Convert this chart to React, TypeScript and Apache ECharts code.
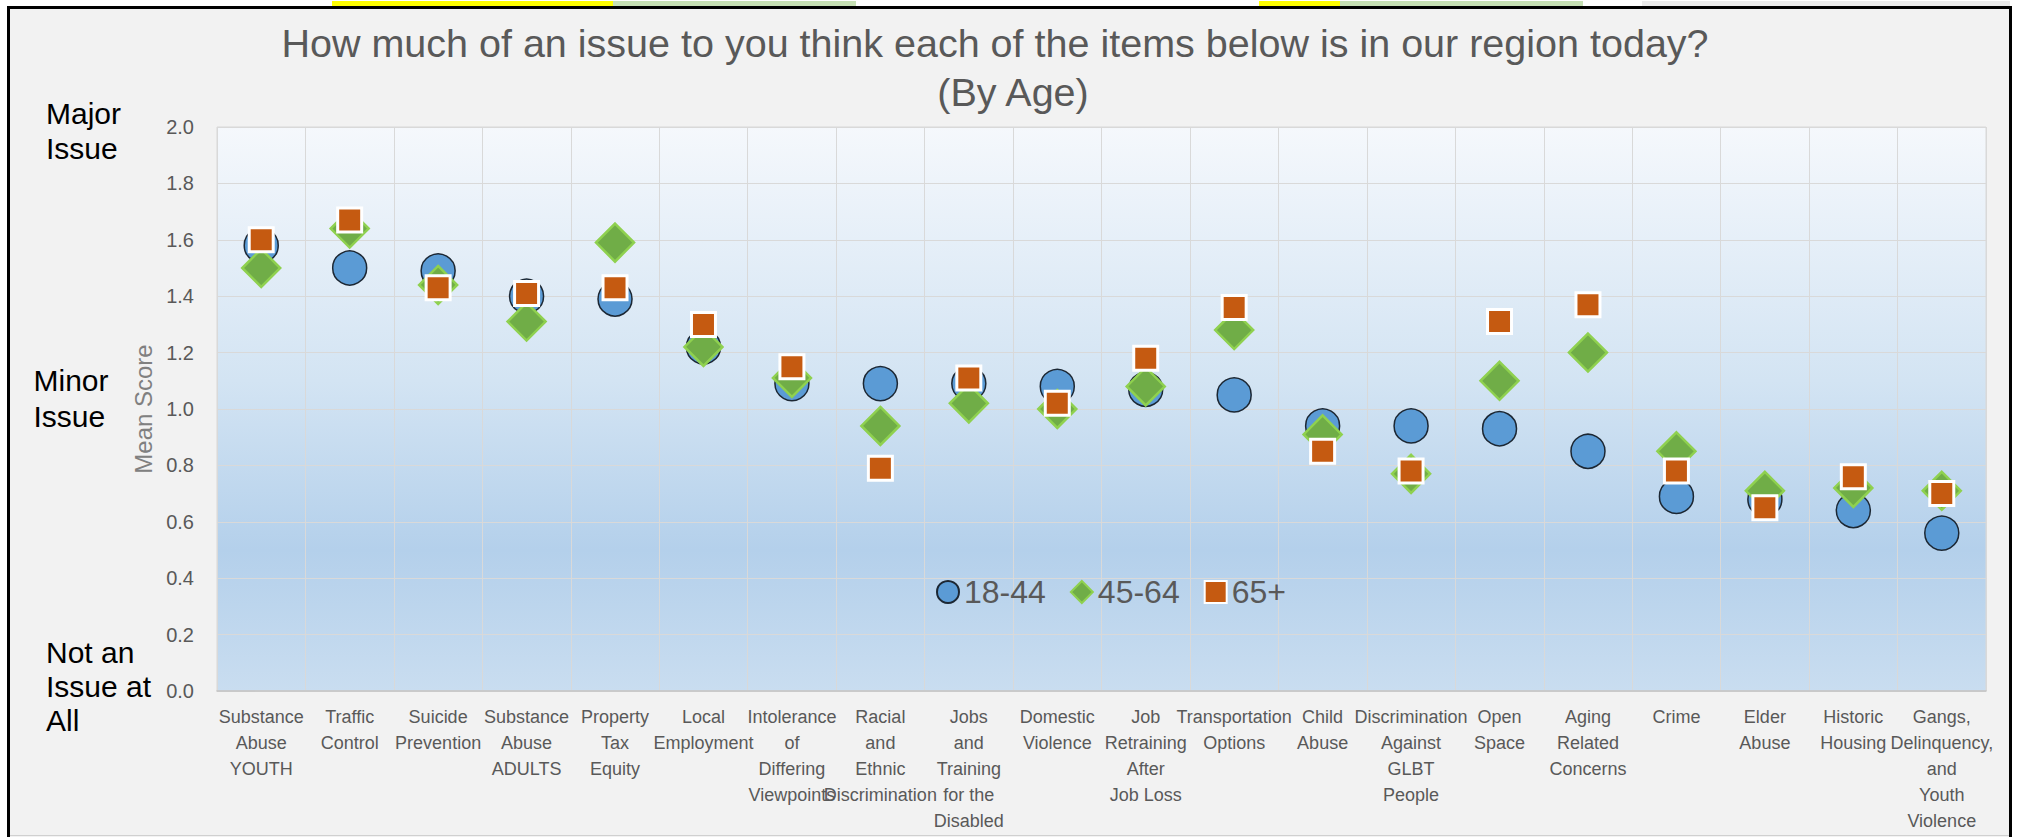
import React, { useEffect, useRef } from "react";
import * as echarts from "echarts";

const categories = [
  "Substance\nAbuse\nYOUTH",
  "Traffic\nControl",
  "Suicide\nPrevention",
  "Substance\nAbuse\nADULTS",
  "Property\nTax\nEquity",
  "Local\nEmployment",
  "Intolerance\nof\nDiffering\nViewpoints",
  "Racial\nand\nEthnic\nDiscrimination",
  "Jobs\nand\nTraining\nfor the\nDisabled",
  "Domestic\nViolence",
  "Job\nRetraining\nAfter\nJob Loss",
  "Transportation\nOptions",
  "Child\nAbuse",
  "Discrimination\nAgainst\nGLBT\nPeople",
  "Open\nSpace",
  "Aging\nRelated\nConcerns",
  "Crime",
  "Elder\nAbuse",
  "Historic\nHousing",
  "Gangs,\nDelinquency,\nand\nYouth\nViolence",
];

const age18to44 = [1.58, 1.5, 1.49, 1.4, 1.39, 1.22, 1.09, 1.09, 1.09, 1.08, 1.07, 1.05, 0.94, 0.94, 0.93, 0.85, 0.69, 0.68, 0.64, 0.56];
const age45to64 = [1.5, 1.64, 1.44, 1.31, 1.59, 1.22, 1.11, 0.94, 1.02, 1.0, 1.08, 1.28, 0.91, 0.77, 1.1, 1.2, 0.85, 0.71, 0.72, 0.71];
const age65plus = [1.6, 1.67, 1.43, 1.41, 1.43, 1.3, 1.15, 0.79, 1.11, 1.02, 1.18, 1.36, 0.85, 0.78, 1.31, 1.37, 0.78, 0.65, 0.76, 0.7];

const seriesNames = ["18-44", "45-64", "65+"];
const titleLines = ["How much of an issue to you think each of the items below is in our region today?", "(By Age)"];
const sideLabels = ["Major\nIssue", "Minor\nIssue", "Not an\nIssue at\nAll"];

export default function App() {
  const ref = useRef<HTMLDivElement>(null);
  useEffect(() => {
    if (!ref.current) return;
    const chart = echarts.init(ref.current, undefined, { renderer: "svg" });
    const gray = "#595959";
    const sans = "'Liberation Sans', Arial, sans-serif";
    const sideFont = "30px " + sans;
    const option: any = {
      animation: false,
      backgroundColor: "#ffffff",
      graphic: [
        // chart frame
        { type: "rect", z: -10, silent: true, shape: { x: 8, y: 8, width: 2001, height: 829 }, style: { fill: "#f2f2f2" } },
        { type: "line", z: 50, silent: true, shape: { x1: 8, y1: 835.5, x2: 2010, y2: 835.5 }, style: { stroke: "#d0d0d0", lineWidth: 1 } },
        { type: "line", z: 50, silent: true, shape: { x1: 7, y1: 7.5, x2: 2012, y2: 7.5 }, style: { stroke: "#000", lineWidth: 3 } },
        { type: "line", z: 50, silent: true, shape: { x1: 8.5, y1: 6, x2: 8.5, y2: 837 }, style: { stroke: "#000", lineWidth: 3 } },
        { type: "line", z: 50, silent: true, shape: { x1: 2010.5, y1: 6, x2: 2010.5, y2: 837 }, style: { stroke: "#000", lineWidth: 3 } },
        // spreadsheet cells above frame
        { type: "rect", z: 50, silent: true, shape: { x: 332, y: 1, width: 281, height: 5 }, style: { fill: "#ffff00" } },
        { type: "rect", z: 50, silent: true, shape: { x: 613, y: 1, width: 243, height: 5 }, style: { fill: "#c6e0b4" } },
        { type: "rect", z: 50, silent: true, shape: { x: 1259, y: 1, width: 81, height: 5 }, style: { fill: "#ffff00" } },
        { type: "rect", z: 50, silent: true, shape: { x: 1340, y: 1, width: 243, height: 5 }, style: { fill: "#c6e0b4" } },
        { type: "rect", z: 50, silent: true, shape: { x: 1642, y: 1, width: 368, height: 5 }, style: { fill: "#ebebeb" } },
        // title
        {
          type: "text", z: 60, silent: true, x: 995, y: 43,
          style: { text: titleLines[0], font: "39.5px " + sans, fill: gray, align: "center", verticalAlign: "middle" },
        },
        {
          type: "text", z: 60, silent: true, x: 1013, y: 92,
          style: { text: titleLines[1], font: "39.5px " + sans, fill: gray, align: "center", verticalAlign: "middle" },
        },
        // side labels
        {
          type: "text", z: 60, silent: true, x: 46, y: 96.5,
          style: { text: sideLabels[0], font: sideFont, lineHeight: 34.5, fill: "#000", align: "left", verticalAlign: "top" },
        },
        {
          type: "text", z: 60, silent: true, x: 33.5, y: 363,
          style: { text: sideLabels[1], font: sideFont, lineHeight: 35.4, fill: "#000", align: "left", verticalAlign: "top" },
        },
        {
          type: "text", z: 60, silent: true, x: 46, y: 635,
          style: { text: sideLabels[2], font: sideFont, lineHeight: 34.3, fill: "#000", align: "left", verticalAlign: "top" },
        },
      ],
      legend: {
        left: 936,
        top: 576,
        itemWidth: 22,
        itemHeight: 22,
        itemGap: 24,
        padding: 0,
        textStyle: { color: gray, fontSize: 32, fontFamily: sans, lineHeight: 32 },
        data: [
          { name: seriesNames[0], icon: "circle" },
          { name: seriesNames[1], icon: "diamond" },
          { name: seriesNames[2], icon: "rect" },
        ],
      },
      grid: {
        left: 217,
        right: 33,
        top: 127,
        bottom: 146,
        show: true,
        borderColor: "#d9d9d9",
        borderWidth: 1,
        backgroundColor: new echarts.graphic.LinearGradient(0, 0, 0, 1, [
          { offset: 0, color: "#f5f8fc" },
          { offset: 0.45, color: "#d3e4f3" },
          { offset: 0.75, color: "#b4d0eb" },
          { offset: 1, color: "#c9ddf0" },
        ]),
      },
      xAxis: {
        type: "category",
        data: categories,
        boundaryGap: true,
        axisTick: { show: false },
        axisLine: { lineStyle: { color: "#c4c4c4", width: 1.5 } },
        splitLine: { show: true, interval: 0, lineStyle: { color: "#d9d9d9", width: 1 } },
        axisLabel: {
          interval: 0,
          margin: 13,
          color: gray,
          fontSize: 18,
          lineHeight: 26,
          fontFamily: sans,
        },
      },
      yAxis: {
        type: "value",
        min: 0,
        max: 2,
        interval: 0.2,
        name: "Mean Score",
        nameLocation: "middle",
        nameGap: 47,
        nameTextStyle: { color: "#808080", fontSize: 24, fontFamily: sans },
        axisLine: { show: false },
        axisTick: { show: false },
        axisLabel: {
          margin: 23,
          color: gray,
          fontSize: 20,
          fontFamily: sans,
          formatter: (v: number) => v.toFixed(1),
        },
        splitLine: { lineStyle: { color: "#d9d9d9", width: 1 } },
      },
      series: [
        {
          name: seriesNames[0],
          type: "scatter",
          symbol: "circle",
          symbolSize: 34,
          data: age18to44,
          itemStyle: { color: "#5b9bd5", borderColor: "#1c2733", borderWidth: 1.5, opacity: 1 },
        },
        {
          name: seriesNames[1],
          type: "scatter",
          symbol: "diamond",
          symbolSize: 38,
          data: age45to64,
          itemStyle: { color: "#70ad47", borderColor: "#8fd14f", borderWidth: 2.5, opacity: 1 },
        },
        {
          name: seriesNames[2],
          type: "scatter",
          symbol: "rect",
          symbolSize: 24,
          data: age65plus,
          itemStyle: { color: "#c55a11", borderColor: "#ffffff", borderWidth: 3, opacity: 1 },
        },
      ],
    };
    chart.setOption(option);
    return () => chart.dispose();
  }, []);
  return (
    <div
      ref={ref}
      style={{ position: "absolute", left: 0, top: 0, width: 2019, height: 837 }}
    />
  );
}
